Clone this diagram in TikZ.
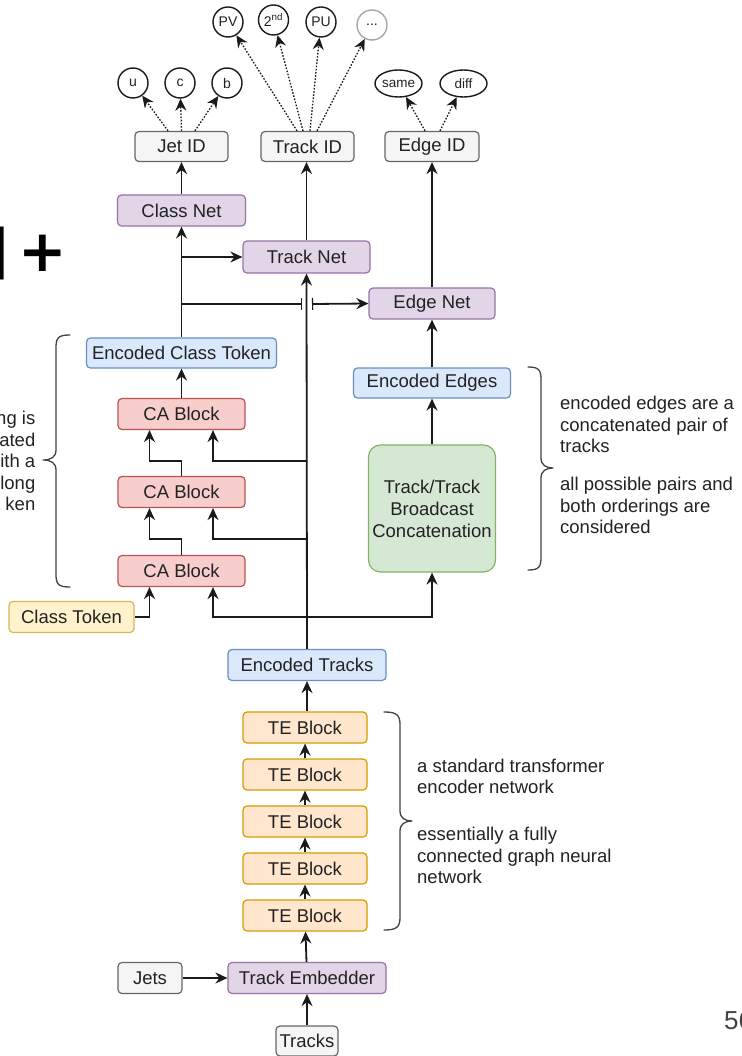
\documentclass[tikz,border=0pt]{standalone}
\usepackage{fontspec}
\setmainfont{Liberation Sans}
\newfontfamily\symfont{DejaVu Sans}
\usetikzlibrary{arrows.meta,calc,shapes.geometric}

\definecolor{txt}{HTML}{222222}
\definecolor{lnk}{HTML}{1A1A1A}
\definecolor{grayF}{HTML}{F5F5F5}\definecolor{grayD}{HTML}{666666}
\definecolor{purF}{HTML}{E1D5E7}\definecolor{purD}{HTML}{9673A6}
\definecolor{bluF}{HTML}{DAE8FC}\definecolor{bluD}{HTML}{6C8EBF}
\definecolor{redF}{HTML}{F8CECC}\definecolor{redD}{HTML}{B85450}
\definecolor{yelF}{HTML}{FFF2CC}\definecolor{yelD}{HTML}{D6B656}
\definecolor{orgF}{HTML}{FFE6CC}\definecolor{orgD}{HTML}{D79B00}
\definecolor{grnF}{HTML}{D5E8D4}\definecolor{grnD}{HTML}{82B366}

\tikzset{
  tip/.tip={Stealth[length=12pt,width=11pt,inset=4pt]},
  box/.style={rectangle, rounded corners=4pt, line width=1.2pt, inner sep=0pt,
    minimum height=31pt, text=txt, font=\fontsize{18.5}{22}\selectfont},
  graybox/.style={box, fill=grayF, draw=grayD},
  purbox/.style={box, fill=purF, draw=purD},
  blubox/.style={box, fill=bluF, draw=bluD},
  redbox/.style={box, fill=redF, draw=redD, minimum width=127pt},
  yelbox/.style={box, fill=yelF, draw=yelD},
  orgbox/.style={box, fill=orgF, draw=orgD, minimum width=124pt},
  grnbox/.style={box, fill=grnF, draw=grnD, rounded corners=12pt, align=center},
  outc/.style={circle, draw=lnk, line width=1.4pt, fill=white, minimum size=30pt,
    inner sep=0pt, text=txt, font=\fontsize{14}{16}\selectfont},
  oute/.style={ellipse, draw=lnk, line width=1.4pt, fill=white, minimum width=47pt,
    minimum height=27pt, inner sep=0pt, text=txt, font=\fontsize{13.5}{15}\selectfont},
  conn/.style={draw=lnk, line width=1.8pt, -tip},
  plain/.style={draw=lnk, line width=1.8pt},
  dots/.style={draw=lnk, line width=1.3pt, dash pattern=on 1.6pt off 1.6pt, -tip},
  brace/.style={draw=txt!85, line width=1.3pt, line cap=round, line join=round},
  anno/.style={text=txt, font=\fontsize{18.5}{21.6}\selectfont, inner sep=0pt},
}

\begin{document}
\begin{tikzpicture}[x=1pt,y=-1pt]
\useasboundingbox[fill=white] (0,0) rectangle (741,1056);

% ---------- output classes ----------
\node[outc] (pv)  at (228,22)   {PV};
\node[outc] (snd) at (273.5,20) {2\textsuperscript{nd}};
\node[outc] (pu)  at (321,22)   {PU};
\node[outc, draw=gray!70] (more) at (372,25) {...};
\node[outc] (u)   at (133,83)   {u};
\node[outc] (c)   at (180,83)   {c};
\node[outc] (b)   at (227,83)   {b};
\node[oute] (same) at (398.5,83.5) {same};
\node[oute] (diff) at (463.5,83.5) {diff};

% ---------- heads ----------
\node[graybox, minimum width=93pt, minimum height=30pt] (jetid)   at (181.5,146.5) {Jet ID};
\node[graybox, minimum width=93pt, minimum height=30pt] (trackid) at (307.5,146.5) {Track ID};
\node[graybox, minimum width=94pt, minimum height=30pt] (edgeid)  at (432,146.5)   {Edge ID};

\node[purbox, minimum width=128pt] (classnet) at (181.5,210.5) {Class Net};
\node[purbox, minimum width=127pt, minimum height=32pt] (tracknet) at (306.5,257) {Track Net};
\node[purbox, minimum width=126pt] (edgenet)  at (432,303.5) {Edge Net};

% ---------- class attention branch ----------
\node[blubox, minimum width=190pt, minimum height=30pt] (enccls) at (181.5,353) {Encoded Class Token};
\node[redbox] (ca1) at (181.5,414) {CA Block};
\node[redbox] (ca2) at (181.5,492) {CA Block};
\node[redbox] (ca3) at (181.5,571) {CA Block};
\node[yelbox, minimum width=125pt] (clstok) at (71.5,617) {Class Token};

% ---------- edge branch ----------
\node[blubox, minimum width=157pt, minimum height=30pt] (encedges) at (432,383) {Encoded Edges};
\node[grnbox, minimum width=127pt, minimum height=127pt] (bcast) at (432,508.5)
  {Track/Track\\Broadcast\\Concatenation};

% ---------- track encoder ----------
\node[blubox, minimum width=158pt] (enctracks) at (307,665) {Encoded Tracks};
\node[orgbox] (te1) at (305,727.5) {TE Block};
\node[orgbox] (te2) at (305,774.5) {TE Block};
\node[orgbox] (te3) at (305,821.5) {TE Block};
\node[orgbox] (te4) at (305,868.5) {TE Block};
\node[orgbox] (te5) at (305,915.5) {TE Block};
\node[graybox, minimum width=64pt] (jets)  at (150,978) {Jets};
\node[purbox, minimum width=158pt] (embed) at (307,978) {Track Embedder};
\node[graybox, minimum width=62pt, minimum height=30pt] (tracks) at (307,1041) {Tracks};

% ---------- junctions ----------
\coordinate (j1) at (307,617);
\coordinate (j2) at (307,539);
\coordinate (j3) at (307,461);
\coordinate (k2) at (181.5,539);
\coordinate (k1) at (181.5,461);
\coordinate (c1) at (181.5,257);
\coordinate (c2) at (181.5,304);
\coordinate (gapL) at (302,304);
\coordinate (gapR) at (312,304);

% ---------- encoder chain ----------
\draw[conn] (tracks) -- (embed);
\draw[conn] (jets) -- (embed);
\draw[conn] (embed) -- (te5);
\draw[conn] (te5) -- (te4);
\draw[conn] (te4) -- (te3);
\draw[conn] (te3) -- (te2);
\draw[conn] (te2) -- (te1);
\draw[conn] ([xshift=2pt]te1.north) -- (enctracks);

% ---------- track trunk ----------
\draw[conn] (enctracks.north) -- (tracknet.south);
\draw[conn] (tracknet.north) -- (tracknet.north |- trackid.south);
\draw[conn] (j1) -| ([xshift=31.5pt]ca3.south);
\draw[conn] (j1) -| (bcast.south);
\draw[conn] (j2) -| ([xshift=31.5pt]ca2.south);
\draw[conn] (j3) -| ([xshift=31.5pt]ca1.south);

% ---------- class attention chain ----------
\draw[conn] (clstok.east) -| ([xshift=-32pt]ca3.south);
\draw[plain] (ca3.north) -- (k2);
\draw[conn] (k2) -| ([xshift=-32pt]ca2.south);
\draw[plain] (ca2.north) -- (k1);
\draw[conn] (k1) -| ([xshift=-32pt]ca1.south);
\draw[conn] (ca1) -- (enccls);
\draw[conn] (enccls) -- (classnet);
\draw[conn] (c1) -- (tracknet.west);
\draw[plain, -{Bar[width=12pt,line width=1.2pt]}] (c2) -- (gapL);
\draw[plain, {Bar[width=12pt,line width=1.2pt]}-tip] (gapR) -- (edgenet.west);
\draw[conn] (classnet) -- (jetid);

% ---------- edge chain ----------
\draw[conn] (bcast) -- (encedges);
\draw[conn] (encedges) -- (edgenet);
\draw[conn] (edgenet) -- (edgeid);

% ---------- output links ----------
\draw[dots] ([xshift=-13.5pt]jetid.north) -- (u);
\draw[dots] (jetid.north) -- (c);
\draw[dots] ([xshift=13.5pt]jetid.north) -- (b);
\draw[dots] ([xshift=-10.5pt]trackid.north) -- (pv);
\draw[dots] ([xshift=-4.5pt]trackid.north) -- (snd);
\draw[dots] ([xshift=2.5pt]trackid.north) -- (pu);
\draw[dots] ([xshift=9.5pt]trackid.north) -- (more);
\draw[dots] ([xshift=-7pt]edgeid.north) -- (same);
\draw[dots] ([xshift=8pt]edgeid.north) -- (diff);

% ---------- braces ----------
\draw[brace] (70,335) .. controls (58,335) and (56,338) .. (56,348) -- (56,450)
  .. controls (56,457) and (51,460) .. (43,460)
  .. controls (51,460) and (56,463) .. (56,470) -- (56,574)
  .. controls (56,584) and (58,587) .. (70,587);
\draw[brace] (528,367) .. controls (539,367) and (541,370) .. (541,380) -- (541,458)
  .. controls (541,465) and (546,468) .. (553,468)
  .. controls (546,468) and (541,471) .. (541,478) -- (541,557)
  .. controls (541,567) and (539,570) .. (528,570);
\draw[brace] (384,712) .. controls (397,712) and (400,715) .. (400,725) -- (400,811)
  .. controls (400,818) and (405,821) .. (412,821)
  .. controls (405,821) and (400,824) .. (400,831) -- (400,917)
  .. controls (400,927) and (397,930) .. (384,930);

% ---------- notes ----------
\node[anno, anchor=east, align=right] (noteL) at (35.5,461) {ng is\\ated\\ith a\\long\\ken};
\node[anno, anchor=west, align=left] (noteE1) at (560,424.5) {encoded edges are a\\concatenated pair of\\tracks};
\node[anno, anchor=west, align=left] (noteE2) at (560,505.5) {all possible pairs and\\both orderings are\\considered};
\node[anno, anchor=west, align=left] (noteT1) at (417,776.5) {a standard transformer\\encoder network};
\node[anno, anchor=west, align=left] (noteT2) at (417,855.5) {essentially a fully\\connected graph neural\\network};

% ---------- slide fragments ----------
\node[inner sep=0pt, text=black, font=\symfont\bfseries\fontsize{53}{53}\selectfont] (bar) at (1,253.5) {|};
\node[inner sep=0pt, text=black, font=\symfont\bfseries\fontsize{58}{58}\selectfont] (plus) at (43,253) {+};
\node[inner sep=0pt, anchor=west, text=txt!85, font=\fontsize{26}{28}\selectfont] (pageno) at (724,1020.5) {56};
\end{tikzpicture}
\end{document}
